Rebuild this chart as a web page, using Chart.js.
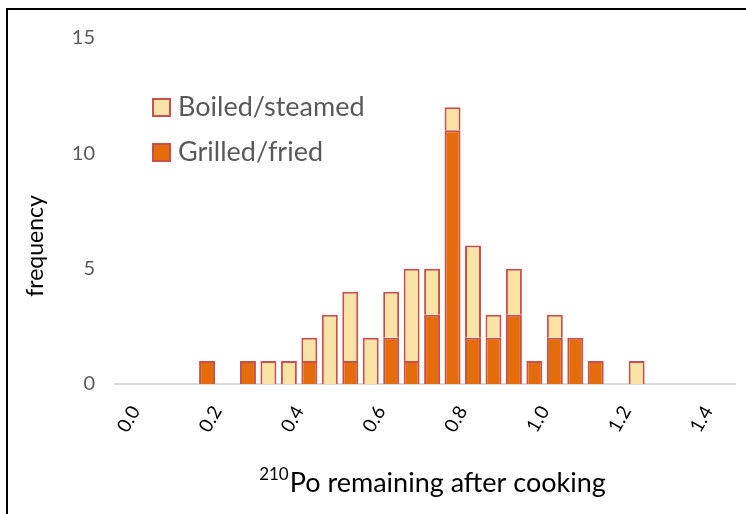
<!DOCTYPE html>
<html>
<head>
<meta charset="utf-8">
<script src="https://cdn.jsdelivr.net/npm/chart.js@4.4.0/dist/chart.umd.min.js"></script>
<style>
  body { margin: 0; background: #fff; }
  #wrap { position: relative; width: 746px; height: 514px; }
</style>
</head>
<body>
<div id="wrap"><canvas id="histChart"></canvas></div>
<script>
// bin centres (0.05 wide bins) of 210Po fraction remaining
const binCenters = [0.175, 0.275, 0.325, 0.375, 0.425, 0.475, 0.525, 0.575, 0.625, 0.675,
                    0.725, 0.775, 0.825, 0.875, 0.925, 0.975, 1.025, 1.075, 1.125, 1.225];
const grilledFried  = [1, 1, 0, 0, 1, 0, 1, 0, 2, 1, 3, 11, 2, 2, 3, 1, 2, 2, 1, 0];
const boiledSteamed = [0, 0, 1, 1, 1, 3, 3, 2, 2, 4, 2, 1, 4, 1, 2, 0, 1, 0, 0, 1];
const xTicks = [0, 0.2, 0.4, 0.6, 0.8, 1.0, 1.2, 1.4];

const FONT = 'Lato, "Open Sans", sans-serif';

const toPoints = vals => vals.map((v, i) => ({ x: binCenters[i], y: v }));

// legend, axis titles and frame drawn by hand (Excel-style layout)
const extras = {
  id: 'extras',
  afterDraw(chart) {
    const ctx = chart.ctx;
    ctx.save();

    // frame (top and left edge of the original chart box)
    ctx.fillStyle = '#000';
    ctx.fillRect(6, 8, 740, 2);
    ctx.fillRect(6, 8, 2, 506);

    // legend inside the plot
    const items = chart.data.datasets.slice().reverse();
    items.forEach((ds, i) => {
      const top = 98 + i * 45;
      ctx.fillStyle = ds.borderColor;
      ctx.fillRect(152, top, 19, 19);
      ctx.fillStyle = ds.backgroundColor;
      ctx.fillRect(154, top + 2, 15, 15);
      ctx.fillStyle = '#595959';
      ctx.font = '27px ' + FONT;
      ctx.textAlign = 'left';
      ctx.textBaseline = 'middle';
      ctx.fillText(ds.label, 178, top + 9);
    });

    // y title
    ctx.save();
    ctx.translate(36, 246);
    ctx.rotate(-Math.PI / 2);
    ctx.fillStyle = '#000';
    ctx.font = '23px ' + FONT;
    ctx.textAlign = 'center';
    ctx.textBaseline = 'middle';
    ctx.fillText('frequency', 0, 0);
    ctx.restore();

    // x title with superscript mass number
    const sup = '210', main = 'Po remaining after cooking';
    ctx.fillStyle = '#000';
    ctx.textAlign = 'left';
    ctx.textBaseline = 'alphabetic';
    ctx.font = '17px ' + FONT;
    const wSup = ctx.measureText(sup).width;
    ctx.font = '27px ' + FONT;
    const wMain = ctx.measureText(main).width;
    const x0 = 432 - (wSup + wMain) / 2;
    ctx.font = '17px ' + FONT;
    ctx.fillText(sup, x0, 480);
    ctx.font = '27px ' + FONT;
    ctx.fillText(main, x0 + wSup + 1, 492);

    ctx.restore();
  }
};

new Chart(document.getElementById('histChart'), {
  type: 'bar',
  data: {
    datasets: [
      {
        label: 'Grilled/fried',
        data: toPoints(grilledFried),
        backgroundColor: '#E46C0A',
        borderColor: '#C9504D',
        borderWidth: 2
      },
      {
        label: 'Boiled/steamed',
        data: toPoints(boiledSteamed),
        backgroundColor: '#FBE3A6',
        borderColor: '#C9504D',
        borderWidth: 2
      }
    ]
  },
  options: {
    responsive: true,
    maintainAspectRatio: false,
    animation: false,
    categoryPercentage: 1,
    barPercentage: 0.78,
    layout: { padding: { top: 38, right: 0, left: 0, bottom: 0 } },
    plugins: {
      legend: { display: false },
      tooltip: { enabled: false }
    },
    scales: {
      x: {
        type: 'linear',
        stacked: true,
        offset: false,
        min: -0.05,
        max: 1.467,
        afterBuildTicks: s => { s.ticks = xTicks.map(v => ({ value: v })); },
        afterFit: s => { s.height = 130; },
        grid: { display: false, drawTicks: false },
        border: { display: true, color: '#D9D9D9', width: 2 },
        ticks: {
          minRotation: 60,
          maxRotation: 60,
          padding: 18,
          color: '#000',
          font: { family: FONT, size: 19 },
          callback: v => v.toFixed(1)
        }
      },
      y: {
        stacked: true,
        min: 0,
        max: 15,
        afterFit: s => { s.width = 115; },
        grid: { display: false, drawTicks: false },
        border: { display: false },
        ticks: {
          stepSize: 5,
          padding: 20,
          color: '#595959',
          font: { family: FONT, size: 20 }
        }
      }
    }
  },
  plugins: [extras]
});
</script>
</body>
</html>
